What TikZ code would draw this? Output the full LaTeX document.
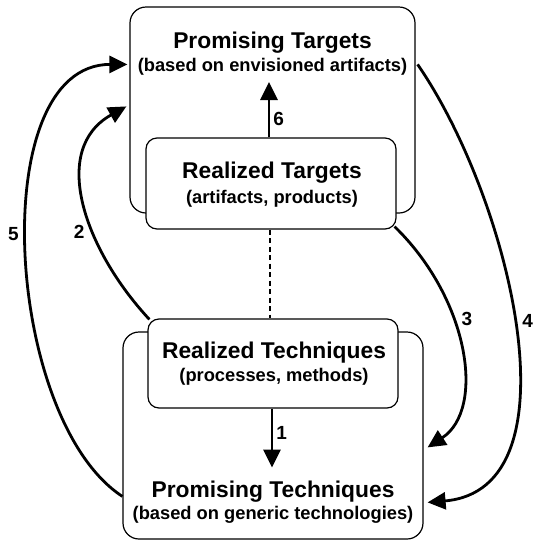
\documentclass[tikz,border=0pt]{standalone}
\usepackage{fontspec}
\setmainfont{Liberation Sans}
\usepackage{tikz}
\usetikzlibrary{arrows.meta,calc}

\begin{document}
\begin{tikzpicture}[
        x=1pt, y=1pt,
        box/.style={rectangle, draw, line width=1.2pt, fill=white, inner sep=0pt},
        bigbox/.style={box, rounded corners=16pt},
        smallbox/.style={box, rounded corners=11pt},
        title/.style={font=\fontsize{22.8}{26}\selectfont\bfseries, inner sep=0pt, anchor=base},
        subtitle/.style={font=\fontsize{18.3}{22}\selectfont\bfseries, inner sep=0pt, anchor=base},
        arrow/.style={-{Triangle[length=18pt, width=17pt]}, line width=2.8pt},
        dashline/.style={line width=2.8pt, dash pattern=on 5pt off 3.5pt},
        num/.style={font=\fontsize{19}{22}\selectfont\bfseries, inner sep=3pt},
        farnum/.style={num, inner sep=7pt}
    ]
        \useasboundingbox (0,0) rectangle (534,-542);

        \node[bigbox, minimum width=285pt, minimum height=206pt] (ptbox) at (272.5,-110) {};
        \node[bigbox, minimum width=300pt, minimum height=207pt] (pqbox) at (273,-435.5) {};
        \node[smallbox, minimum width=250pt, minimum height=91pt] (rtbox) at (271,-183.5) {};
        \node[smallbox, minimum width=250pt, minimum height=89pt] (rqbox) at (273,-363.5) {};

        \node[title] (ptname) at (272.5,-48) {Promising Targets};
        \node[subtitle] (ptsub) at (272.5,-71) {(based on envisioned artifacts)};
        \node[title] (rtname) at (272,-178) {Realized Targets};
        \node[subtitle] (rtsub) at (272,-203) {(artifacts, products)};
        \node[title] (rqname) at (274,-358) {Realized Techniques};
        \node[subtitle] (rqsub) at (274,-381) {(processes, methods)};
        \node[title] (pqname) at (273,-497) {Promising Techniques};
        \node[subtitle] (pqsub) at (273,-519) {(based on generic technologies)};

        \draw[arrow, shorten >=7pt] ([xshift=-2pt]rtbox.north) -- ([xshift=-2pt]rtbox.north |- ptsub.south) node[num, pos=0.29, right] {6};
        \draw[arrow, shorten >=12.7pt] ([xshift=-1pt]rqbox.south) -- ([xshift=-1pt]rqbox.south |- pqname.north) node[num, pos=0.34, right] {1};
        \draw[dashline] ([xshift=-1pt]rtbox.south) -- ([xshift=-1pt]rtbox.south |- rqbox.north);

        \draw[arrow] ($(rqbox.north west)+(2,-1)$) .. controls +(-65,70) and +(-77,-43) .. ($(ptbox.north west)+(-3,-100)$) node[farnum, pos=0.38, left] {2};
        \draw[arrow] ($(rtbox.south east)+(-2,3)$) .. controls +(75,-73) and +(58,38) .. ($(pqbox.north east)+(4,-116)$) node[farnum, pos=0.375, right] {3};
        \draw[arrow] ($(ptbox.north east)+(2,-58)$) .. controls +(93,-135) and +(153,13) .. ($(pqbox.north east)+(4,-171)$) node[farnum, pos=0.485, right] {4};
        \draw[arrow] ($(pqbox.north west)+(0,-165)$) .. controls +(-118,77) and +(-143,0) .. ($(ptbox.north west)+(-2,-58)$) node[farnum, pos=0.53, left] {5};
    \end{tikzpicture}
\end{document}
